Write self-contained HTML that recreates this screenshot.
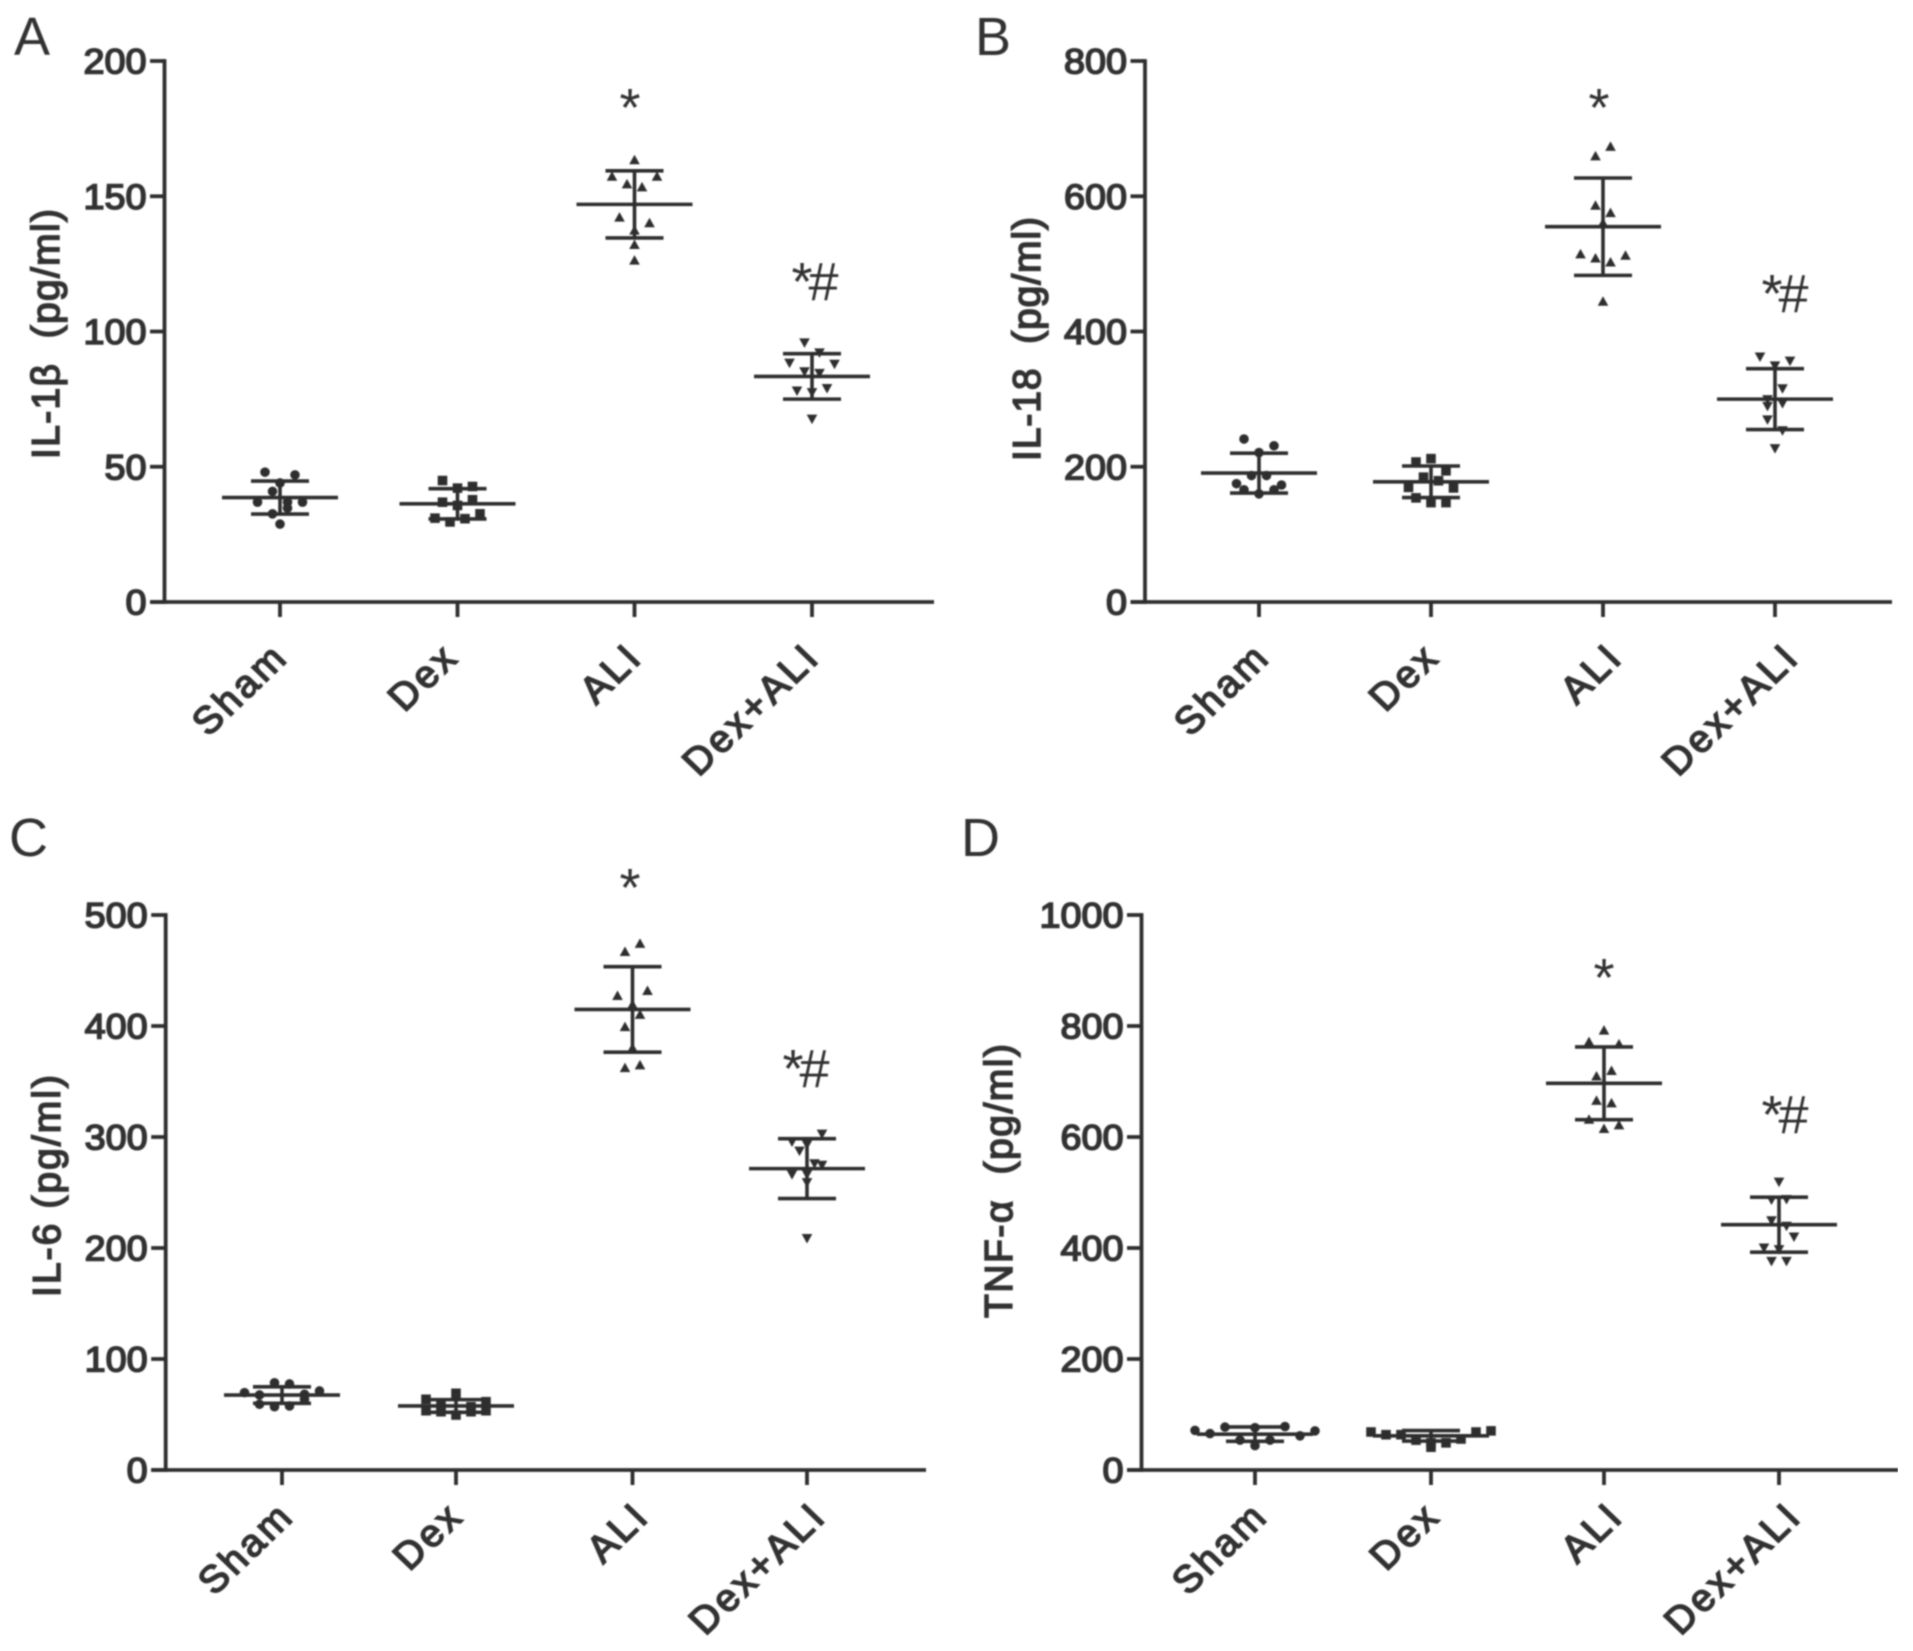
<!DOCTYPE html>
<html>
<head>
<meta charset="utf-8">
<title>Cytokine levels by treatment group</title>
<style>
html,body{margin:0;padding:0;background:#fff;width:1913px;height:1651px;overflow:hidden}
svg{display:block}
text{font-family:"Liberation Sans",Arial,sans-serif;fill:#333;white-space:pre}
.heavy{stroke:#333;stroke-width:1.6px}
</style>
</head>
<body>
<svg id="figure" xmlns="http://www.w3.org/2000/svg" width="1913" height="1651" viewBox="0 0 1913 1651">
<defs><filter id="soft" x="0" y="0" width="100%" height="100%"><feGaussianBlur stdDeviation="0.7"/></filter></defs>
<rect width="1913" height="1651" fill="#fff"/>
<g id="root" filter="url(#soft)"></g>
</svg>
<script>
const categories = ['Sham', 'Dex', 'ALI', 'Dex+ALI'];

const il1bTicks = [0, 50, 100, 150, 200];
const il1bSham = [48, 44, 47, 36.9, 40.9, 36.9, 36.9, 32.6, 34.7, 28.8];
const il1bDex = [44.9, 42.1, 42.7, 36.9, 35.7, 37.8, 31, 29.6, 30.8, 32.6];
const il1bAli = [163.3, 157.2, 154.4, 153.3, 157.2, 142.1, 137.3, 140, 132, 126.2];
const il1bDexAli = [96, 92.3, 88.5, 85.3, 84.7, 88.1, 78.2, 77.6, 79.1, 67.8];
const il1bMeans = [38.6, 36.3, 147, 83.4];
const il1bSds = [6.1, 5.6, 12.4, 8.4];

const il18Ticks = [0, 200, 400, 600, 800];
const il18Sham = [241, 221, 231, 175, 187, 187, 173, 166, 160, 166];
const il18Dex = [207, 212, 194, 169.5, 184.6, 179.3, 168.7, 154, 147, 147];
const il18Ali = [659, 673, 586, 575, 560, 514, 508, 502, 512, 444];
const il18DexAli = [363, 350, 357, 300, 316, 290, 294, 270, 254, 227.5];
const il18Means = [190.6, 177.8, 555, 300];
const il18Sds = [29.5, 23.3, 72, 45];

const il6Ticks = [0, 100, 200, 300, 400, 500];
const il6Sham = [69.7, 67.6, 78.6, 77.5, 68.2, 71.2, 59.2, 57, 57.7, 63.7];
const il6Dex = [63.7, 57.9, 69.1, 57, 61.5, 53.4, 52.5, 49.5, 52.5, 53.4];
const il6Ali = [466.7, 474, 427, 419, 431.5, 399, 410, 380, 362, 364.5];
const il6DexAli = [296, 293.5, 303, 287.7, 276.4, 266.6, 266.6, 275, 259.3, 209];
const il6Means = [67.5, 57.7, 414.9, 271.5];
const il6Sds = [7.4, 5.7, 38.5, 27];

const tnfTicks = [0, 200, 400, 600, 800, 1000];
const tnfSham = [71.4, 65.6, 77.3, 53.8, 76.3, 53.8, 78.3, 61.6, 70.5, 44];
const tnfDex = [68.5, 63.6, 63.6, 53.8, 48.9, 48.9, 55.8, 68.5, 70.5, 41.1];
const tnfAli = [771, 791.6, 767, 709, 719, 665, 660.5, 631, 614.5, 621];
const tnfDexAli = [519.6, 487.3, 488.2, 450, 440, 401, 398, 420.7, 376.7, 376.7];
const tnfMeans = [64.6, 61.6, 696.7, 442];
const tnfSds = [13, 9.5, 65.5, 49.5];

const NS = 'http://www.w3.org/2000/svg';
const INK = '#2f2f2f';
const root = document.getElementById('root');

function make(tag, attrs, parent, txt) {
  const el = document.createElementNS(NS, tag);
  for (const k in attrs) el.setAttribute(k, attrs[k]);
  if (txt !== undefined) el.textContent = txt;
  parent.appendChild(el);
  return el;
}

function swarmOffsets(values, yScale) {
  const order = values.map((v, i) => i).sort((a, b) => values[b] - values[a]);
  const offsets = new Array(values.length).fill(0);
  let bin = [];
  let startY = null;
  const flush = () => {
    bin.sort((a, b) => a - b);
    bin.forEach((idx, i) => { offsets[idx] = (i - (bin.length - 1) / 2) * 15; });
    bin = [];
  };
  order.forEach(idx => {
    const y = yScale(values[idx]);
    if (startY === null || y - startY >= 14) { flush(); startY = y; }
    bin.push(idx);
  });
  flush();
  return offsets;
}

function drawMarker(kind, x, y, parent) {
  if (kind === 0) return make('circle', { cx: x, cy: y, r: 4.8, fill: INK }, parent);
  if (kind === 1) return make('rect', { x: x - 4.8, y: y - 4.8, width: 9.6, height: 9.6, fill: INK }, parent);
  if (kind === 2) return make('polygon', { points: `${x},${y - 5.5} ${x + 5.3},${y + 4} ${x - 5.3},${y + 4}`, fill: INK }, parent);
  return make('polygon', { points: `${x},${y + 5.5} ${x + 5.3},${y - 4} ${x - 5.3},${y - 4}`, fill: INK }, parent);
}

function line(x1, y1, x2, y2, w, parent) {
  return make('line', { x1, y1, x2, y2, stroke: INK, 'stroke-width': w }, parent);
}

function drawPanel(p) {
  const g = make('g', {}, root);
  
  
  const yScale = v => p.base - (v / p.ticks[p.ticks.length - 1]) * (p.base - p.top);

  const letter = make('text', { x: p.letterX, y: p.letterY, 'font-size': 54 }, g, p.letter);
  
  

  const yAxis = line(p.left, p.top - 1.9, p.left, p.base + 1.9, 3.8, g);
  
  
  const xAxis = line(p.left - 14.5, p.base, p.right, p.base, 3.8, g);
  
  

  p.ticks.forEach(t => {
    const y = yScale(t);
    const tick = line(p.left - 14.5, y, p.left, y, 3.8, g);
    
    
    const lab = make('text', { class: 'heavy', transform: `translate(${p.left - 18},${y + 12.5}) scale(1.08,1)`, 'font-size': 35, 'text-anchor': 'end' }, g, String(t));
    
    
  });

  const yTitle = make('text', { class: 'heavy', transform: `translate(${p.titleX},${p.titleY}) rotate(-90)`, 'font-size': 39, 'text-anchor': 'middle', textLength: p.titleLen }, g, p.title);
  
  

  categories.forEach((cat, i) => {
    const cx = p.centers[i];
    const xTick = line(cx, p.base, cx, p.base + 15, 3.8, g);
    
    
    const labelNudge = cat === 'Dex' ? -7 : 0;
    const xLab = make('text', { class: 'heavy', transform: `translate(${cx + p.labelDx + i * p.labelStep + labelNudge},${p.base + p.labelDy}) scale(1.04,1) rotate(-45)`, 'font-size': 38, 'text-anchor': 'end', 'letter-spacing': 3 }, g, cat);
    
    

    const values = p.groups[i];
    const offs = swarmOffsets(values, yScale);
    const group = make('g', {}, g);
    
    
    values.forEach((v, j) => {
      const mark = drawMarker(i, cx + offs[j], yScale(v), group);
      
      
    });
    const m = yScale(p.means[i]);
    const hi = yScale(p.means[i] + p.sds[i]);
    const lo = yScale(p.means[i] - p.sds[i]);
    const meanLine = line(cx - 58, m, cx + 58, m, 3.6, group);
    
    
    const stem = line(cx, hi, cx, lo, 3.6, group);
    
    
    const capTop = line(cx - 29, hi, cx + 29, hi, 3.6, group);
    
    
    const capBottom = line(cx - 29, lo, cx + 29, lo, 3.6, group);
    
    
  });

  const star = make('text', { x: p.starX, y: p.starY, 'font-size': 54, 'text-anchor': 'middle' }, g, '*');
  
  
  const starHash = make('text', { x: p.hashX, y: p.hashY, 'font-size': 54, 'text-anchor': 'middle', 'letter-spacing': -4 }, g, '*#');
  
  
}

drawPanel({ name: 'panel-a-il-1b', letter: 'A', letterX: 14, letterY: 55, left: 164.5, right: 934, top: 61, base: 602,
  centers: [280, 457.5, 634.5, 812], ticks: il1bTicks, groups: [il1bSham, il1bDex, il1bAli, il1bDexAli], means: il1bMeans, sds: il1bSds,
  title: 'IL-1β  (pg/ml)', titleX: 59, titleY: 334, titleLen: 250, labelDx: 10, labelStep: 0, labelDy: 57,
  starX: 630, starY: 126, hashX: 813, hashY: 300 });
drawPanel({ name: 'panel-b-il-18', letter: 'B', letterX: 975, letterY: 55, left: 1145, right: 1892, top: 61, base: 602,
  centers: [1259, 1431, 1603, 1775], ticks: il18Ticks, groups: [il18Sham, il18Dex, il18Ali, il18DexAli], means: il18Means, sds: il18Sds,
  title: 'IL-18  (pg/ml)', titleX: 1040, titleY: 339, titleLen: 244, labelDx: 13, labelStep: 4.5, labelDy: 57,
  starX: 1599, starY: 126, hashX: 1783, hashY: 312 });
drawPanel({ name: 'panel-c-il-6', letter: 'C', letterX: 9, letterY: 856, left: 165.7, right: 926, top: 915, base: 1470,
  centers: [282, 456, 632.5, 807], ticks: il6Ticks, groups: [il6Sham, il6Dex, il6Ali, il6DexAli], means: il6Means, sds: il6Sds,
  title: 'IL-6 (pg/ml)', titleX: 60, titleY: 1186, titleLen: 222, labelDx: 14, labelStep: 2.5, labelDy: 48,
  starX: 630, starY: 906, hashX: 804, hashY: 1087 });
drawPanel({ name: 'panel-d-tnf-a', letter: 'D', letterX: 961, letterY: 856, left: 1141.5, right: 1898, top: 915, base: 1470,
  centers: [1255, 1431, 1604, 1779], ticks: tnfTicks, groups: [tnfSham, tnfDex, tnfAli, tnfDexAli], means: tnfMeans, sds: tnfSds,
  title: 'TNF-α  (pg/ml)', titleX: 1012, titleY: 1181, titleLen: 274, labelDx: 15, labelStep: 3.3, labelDy: 48,
  starX: 1604, starY: 996, hashX: 1783, hashY: 1133 });
</script>
</body>
</html>
